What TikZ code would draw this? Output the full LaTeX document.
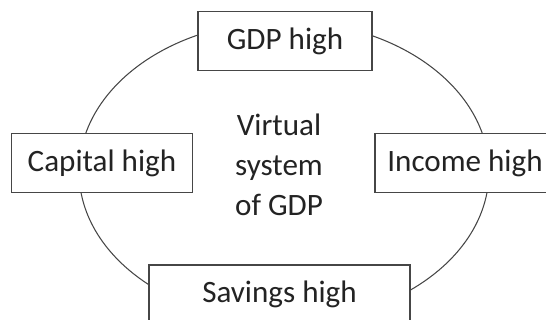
\documentclass[tikz,border=0pt]{standalone}
\usepackage{fontspec}
\setmainfont{Carlito}
\usepackage{tikz}
\usetikzlibrary{positioning}
\definecolor{lineGray}{RGB}{70, 70, 70}
\definecolor{textGray}{RGB}{35, 35, 35}

\begin{document}
\begin{tikzpicture}[
        x=0.02cm, y=-0.02cm,
        factor/.style={rectangle, draw=lineGray, fill=white, line width=0.7pt, minimum height=1.18cm, text=textGray, font=\fontsize{17.7}{23.5}\selectfont, inner sep=0pt},
        core/.style={align=center, text=textGray, font=\fontsize{17.7}{22.6}\selectfont},
        ring/.style={draw=lineGray, line width=0.6pt}
    ]
        \path[use as bounding box, clip] (0,0) rectangle (546,320);

        % Cycle
        \coordinate (c) at (284,171.6);
        \draw[ring] (c) ellipse [x radius=4.1cm, y radius=3.01cm];

        % Centre text
        \node[core] (sys) at (279,165) {Virtual\\system\\of GDP};

        % Factors
        \node[factor, minimum width=3.48cm] (gdp) at (285,41) {GDP high};
        \node[factor, minimum width=3.6cm] (income) at (465,163) {Income high};
        \node[factor, minimum width=5.22cm] (savings) at (279.5,294.5) {Savings high};
        \node[factor, minimum width=3.63cm] (capital) at (102,163.3) {Capital high};

    \end{tikzpicture}
\end{document}
